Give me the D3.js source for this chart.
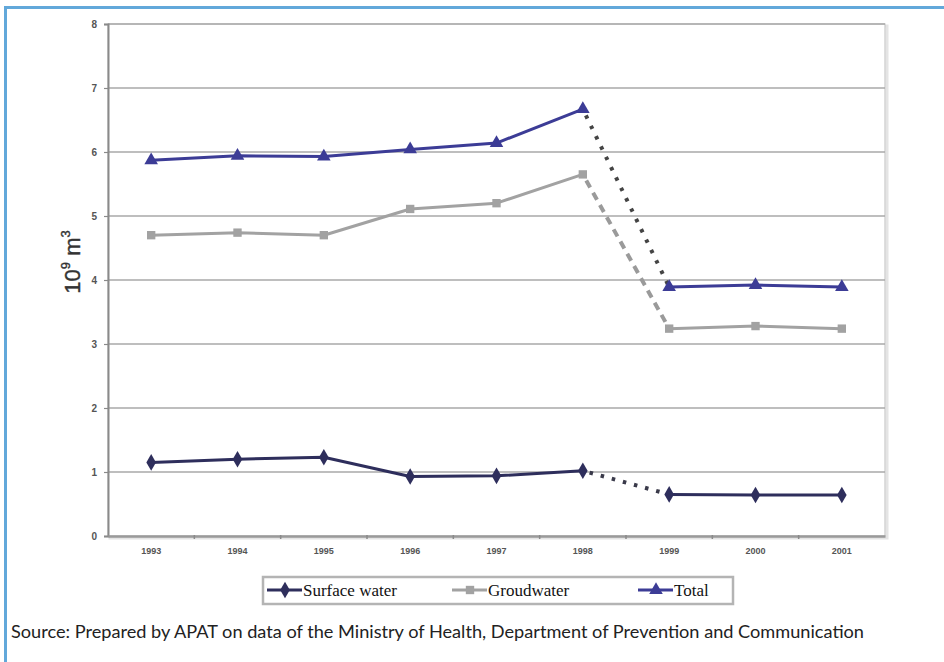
<!DOCTYPE html>
<html>
<head>
<meta charset="utf-8">
<script src="https://cdn.jsdelivr.net/npm/d3@7"></script>
<style>
  html, body { margin: 0; padding: 0; background: #fff; }
  svg { display: block; }
</style>
</head>
<body>
<svg id="chart" width="944" height="662"></svg>
<script>
// Water withdrawals, 10^9 m^3
const years = ["1993", "1994", "1995", "1996", "1997", "1998", "1999", "2000", "2001"];
const surfaceWater = [1.15, 1.20, 1.23, 0.93, 0.94, 1.02, 0.65, 0.64, 0.64];
const groundwater  = [4.70, 4.74, 4.70, 5.11, 5.20, 5.65, 3.24, 3.28, 3.24];
const total        = [5.87, 5.94, 5.93, 6.04, 6.14, 6.67, 3.89, 3.92, 3.89];
const yTicks = [0, 1, 2, 3, 4, 5, 6, 7, 8];
const legendLabels = ["Surface water", "Groudwater", "Total"];
const sourceText = "Source: Prepared by APAT on data of the Ministry of Health, Department of Prevention and Communication";
// the series break between these two years
const breakAfter = "1998";

const svg = d3.select("#chart");

// outer frame: blue rule along the top and the left side
svg.append("rect").attr("x", 4).attr("y", 6).attr("width", 940).attr("height", 3).attr("fill", "#62a8da");
svg.append("rect").attr("x", 4).attr("y", 6).attr("width", 3).attr("height", 656).attr("fill", "#62a8da");

const plot = { left: 108, right: 885, top: 24, bottom: 536 };

const x = d3.scaleBand().domain(years).range([plot.left, plot.right]);
const y = d3.scaleLinear().domain([0, 8]).range([plot.bottom, plot.top]);
const cx = d => x(d) + x.bandwidth() / 2;

// plot area shadow + frame
svg.append("rect")
  .attr("x", plot.left + 2).attr("y", plot.top + 2)
  .attr("width", plot.right - plot.left).attr("height", plot.bottom - plot.top)
  .attr("fill", "none").attr("stroke", "#e4e4e4").attr("stroke-width", 3);
svg.append("rect")
  .attr("x", plot.left).attr("y", plot.top)
  .attr("width", plot.right - plot.left).attr("height", plot.bottom - plot.top)
  .attr("fill", "#fff").attr("stroke", "#c8c8c8").attr("stroke-width", 1.2);

// horizontal gridlines
svg.append("g").selectAll("line").data(yTicks.filter(t => t > 0)).join("line")
  .attr("x1", plot.left).attr("x2", plot.right)
  .attr("y1", d => y(d)).attr("y2", d => y(d))
  .attr("stroke", "#a9a9a9").attr("stroke-width", 1.4);

// y axis
const yAxis = d3.axisLeft(y).tickValues(yTicks).tickSize(4).tickPadding(7).tickFormat(d3.format("d"));
const gy = svg.append("g").attr("transform", `translate(${plot.left},0)`).call(yAxis);
gy.select(".domain").attr("stroke", "#8a8a8a").attr("stroke-width", 2);
gy.selectAll(".tick line").attr("stroke", "#8a8a8a").attr("stroke-width", 1.2);
gy.selectAll(".tick text")
  .attr("font-family", "Arial, 'Liberation Sans', sans-serif")
  .attr("font-size", 10).attr("font-weight", "bold").attr("fill", "#555");

// x axis
const xAxis = d3.axisBottom(x).tickSize(0).tickPadding(12);
const gx = svg.append("g").attr("transform", `translate(0,${plot.bottom})`).call(xAxis);
gx.select(".domain").attr("stroke", "#9a9a9a").attr("stroke-width", 2.5);
gx.selectAll(".tick text")
  .attr("font-family", "Arial, 'Liberation Sans', sans-serif")
  .attr("font-size", 9).attr("font-weight", "bold").attr("fill", "#555");
// category separators on the x axis
svg.append("g").selectAll("line").data(years.slice(1)).join("line")
  .attr("x1", d => x(d)).attr("x2", d => x(d))
  .attr("y1", plot.bottom - 1).attr("y2", plot.bottom + 3)
  .attr("stroke", "#8a8a8a").attr("stroke-width", 1.5);

// y axis title: 10^9 m^3
const yTitle = svg.append("text")
  .attr("transform", "translate(80,262) rotate(-90)")
  .attr("text-anchor", "middle")
  .attr("font-family", "Arial, 'Liberation Sans', sans-serif")
  .attr("font-size", 22).attr("fill", "#333").attr("stroke", "#333").attr("stroke-width", 0.4);
yTitle.append("tspan").text("10");
yTitle.append("tspan").attr("font-size", 13).attr("dy", -10).text("9");
yTitle.append("tspan").attr("dy", 10).text(" m");
yTitle.append("tspan").attr("font-size", 13).attr("dy", -10).text("3");

const series = [
  { name: legendLabels[0], values: surfaceWater, color: "#2e2e5c", marker: d3.symbolDiamond, size: 80, dash: "3.5,8", breakColor: "#3a3a4a" },
  { name: legendLabels[1], values: groundwater,  color: "#a2a2a2", marker: d3.symbolSquare,  size: 70, dash: "8,6", breakColor: "#9a9a9a" },
  { name: legendLabels[2], values: total,        color: "#3c3c96", marker: d3.symbolTriangle, size: 80, dash: "3.5,8", breakColor: "#444" }
];

const line = d3.line().x(d => cx(d.year)).y(d => y(d.v));
const bi = years.indexOf(breakAfter);

series.forEach(s => {
  const pts = years.map((yr, i) => ({ year: yr, v: s.values[i] }));
  const g = svg.append("g");
  // dotted link across the break
  g.append("path").attr("d", line(pts.slice(bi, bi + 2)))
    .attr("fill", "none").attr("stroke", s.breakColor).attr("stroke-width", 4)
    .attr("stroke-dasharray", s.dash).attr("stroke-dashoffset", -7);
  // solid runs before and after the break
  [pts.slice(0, bi + 1), pts.slice(bi + 1)].forEach(run => {
    g.append("path").attr("d", line(run))
      .attr("fill", "none").attr("stroke", s.color).attr("stroke-width", 3)
      .attr("stroke-linejoin", "round");
  });
  // markers
  g.selectAll("path.m").data(pts).join("path").attr("class", "m")
    .attr("d", d3.symbol().type(s.marker).size(s.size))
    .attr("transform", d => `translate(${cx(d.year)},${y(d.v)})`)
    .attr("fill", s.color);
});

// legend
const legend = svg.append("g");
legend.append("rect").attr("x", 263).attr("y", 577).attr("width", 470).attr("height", 27)
  .attr("fill", "#fff").attr("stroke", "#b4b4b4").attr("stroke-width", 2.5);
const legendX = [267, 452, 638];
series.forEach((s, i) => {
  const lx = legendX[i];
  legend.append("line").attr("x1", lx).attr("x2", lx + 35).attr("y1", 590).attr("y2", 590)
    .attr("stroke", s.color).attr("stroke-width", 3);
  legend.append("path").attr("d", d3.symbol().type(s.marker).size(s.size))
    .attr("transform", `translate(${lx + 18},590)`).attr("fill", s.color);
  legend.append("text").attr("x", lx + 36).attr("y", 596)
    .attr("font-family", "'Liberation Serif', 'Times New Roman', serif")
    .attr("font-size", 17).attr("fill", "#111").text(s.name);
});

// source note
svg.append("text").attr("x", 11).attr("y", 638)
  .attr("font-family", "Lato, 'Open Sans', sans-serif")
  .attr("font-size", 17).attr("fill", "#222")
  .attr("textLength", 853).attr("lengthAdjust", "spacingAndGlyphs")
  .text(sourceText);
</script>
</body>
</html>
